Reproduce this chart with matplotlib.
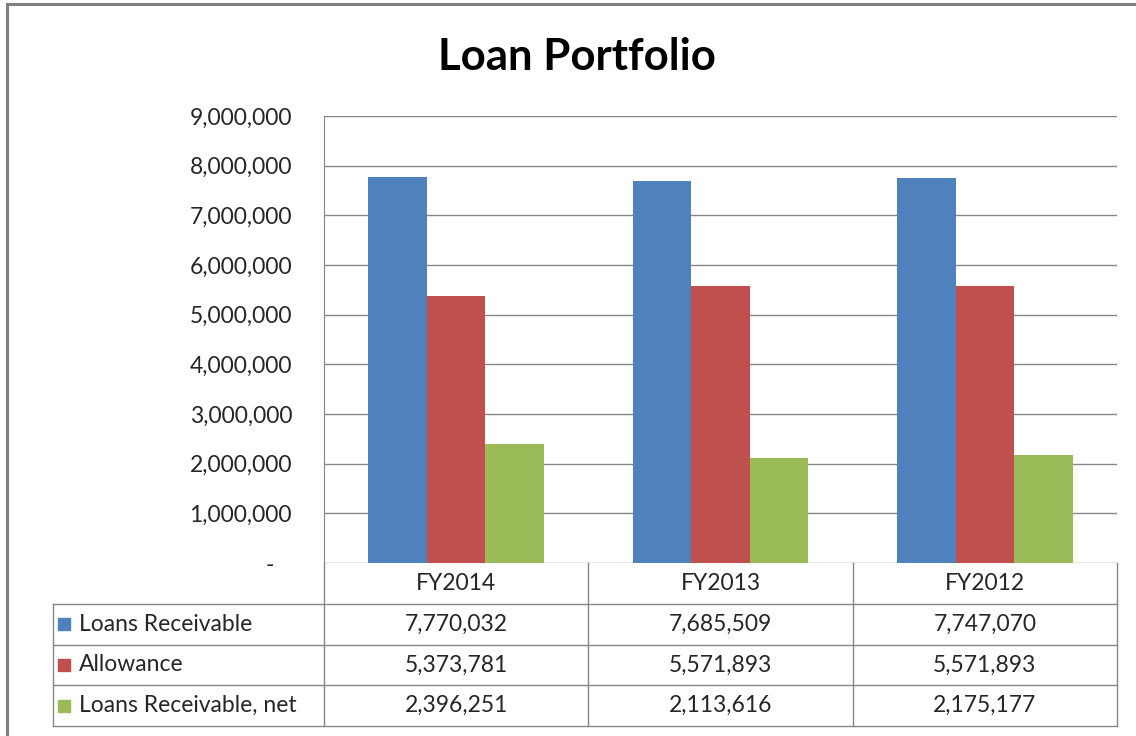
import numpy as np
import matplotlib
matplotlib.use("Agg")
import matplotlib.pyplot as plt
from matplotlib.patches import Rectangle
from matplotlib.ticker import FuncFormatter, MultipleLocator

# ---- data ----
years = ["FY2014", "FY2013", "FY2012"]
series_names = ["Loans Receivable", "Allowance", "Loans Receivable, net"]
loans_receivable = [7770032, 7685509, 7747070]
allowance = [5373781, 5571893, 5571893]
loans_net = [2396251, 2113616, 2175177]
colors = ["#4F81BD", "#C0504D", "#9BBB59"]

plt.rcParams["font.family"] = ["Lato", "DejaVu Sans"]
W, H = 1136, 736
fig = plt.figure(figsize=(W / 100, H / 100), dpi=100)

GRID = "#868686"
TXT = "#262626"
FS = 16.5

# plot area in pixels
px_l, px_r, px_t, px_b = 324, 1117, 116, 563
ax = fig.add_axes([px_l / W, 1 - px_b / H, (px_r - px_l) / W, (px_b - px_t) / H])

series = [loans_receivable, allowance, loans_net]
x = np.arange(len(years))
bw = 0.2215
for i, (vals, c) in enumerate(zip(series, colors)):
    ax.bar(x + (i - 1) * bw, vals, bw, color=c, zorder=3, linewidth=0)

ax.set_xlim(-0.5, len(years) - 0.5)
ax.set_ylim(0, 9000000)
ax.yaxis.set_major_locator(MultipleLocator(1000000))
ax.yaxis.set_major_formatter(FuncFormatter(lambda v, p: "-   " if v == 0 else f"{v:,.0f}"))
ax.grid(axis="y", color=GRID, lw=1, zorder=0)
ax.set_xticks([])
ax.tick_params(axis="y", length=0, pad=23, labelsize=FS, labelcolor=TXT)
for s in ["top", "right", "bottom"]:
    ax.spines[s].set_visible(False)
ax.spines["left"].set_color(GRID)

# title
fig.text(577 / W, 1 - 70 / H, "Loan Portfolio", ha="center", va="baseline",
         fontsize=31.5, fontweight="bold", color="black")

# ---- data table below the plot ----
tl, tb = 53, 726
unit = (px_r - px_l) / len(years)
x_left = -0.5 - (px_l - tl) / unit
tab = fig.add_axes([tl / W, 1 - tb / H, (px_r - tl) / W, (tb - px_b) / H])
tab.set_xlim(x_left, len(years) - 0.5)
tab.set_ylim(0, 4)
tab.axis("off")

lc = dict(color=GRID, lw=1, clip_on=False)
for y in [0, 1, 2, 3]:
    tab.plot([x_left, len(years) - 0.5], [y, y], **lc)
tab.plot([x_left, x_left], [0, 3], **lc)
for xb in np.arange(len(years) + 1) - 0.5:
    tab.plot([xb, xb], [0, 4], **lc)

for j, yr in enumerate(years):
    tab.text(j, 3.5, yr, ha="center", va="center", fontsize=FS, color=TXT)

sq_x = -0.5 - (px_l - 64) / unit
lab_x = -0.5 - (px_l - 79) / unit
for i, (name, vals, c) in enumerate(zip(series_names, series, colors)):
    yc = 2.5 - i
    tab.plot(sq_x, yc, marker="s", ms=9, color=c, clip_on=False)
    tab.text(lab_x, yc, name, ha="left", va="center", fontsize=FS, color=TXT)
    for j, v in enumerate(vals):
        tab.text(j, yc, f"{v:,.0f}", ha="center", va="center", fontsize=FS, color=TXT)

# chart border
fig.patches.append(Rectangle((7 / W, -0.05), 1.1, 1 - 4 / H + 0.05, transform=fig.transFigure,
                             fill=False, edgecolor="#7f7f7f", lw=2.2))

fig.savefig("out.png", dpi=100)
